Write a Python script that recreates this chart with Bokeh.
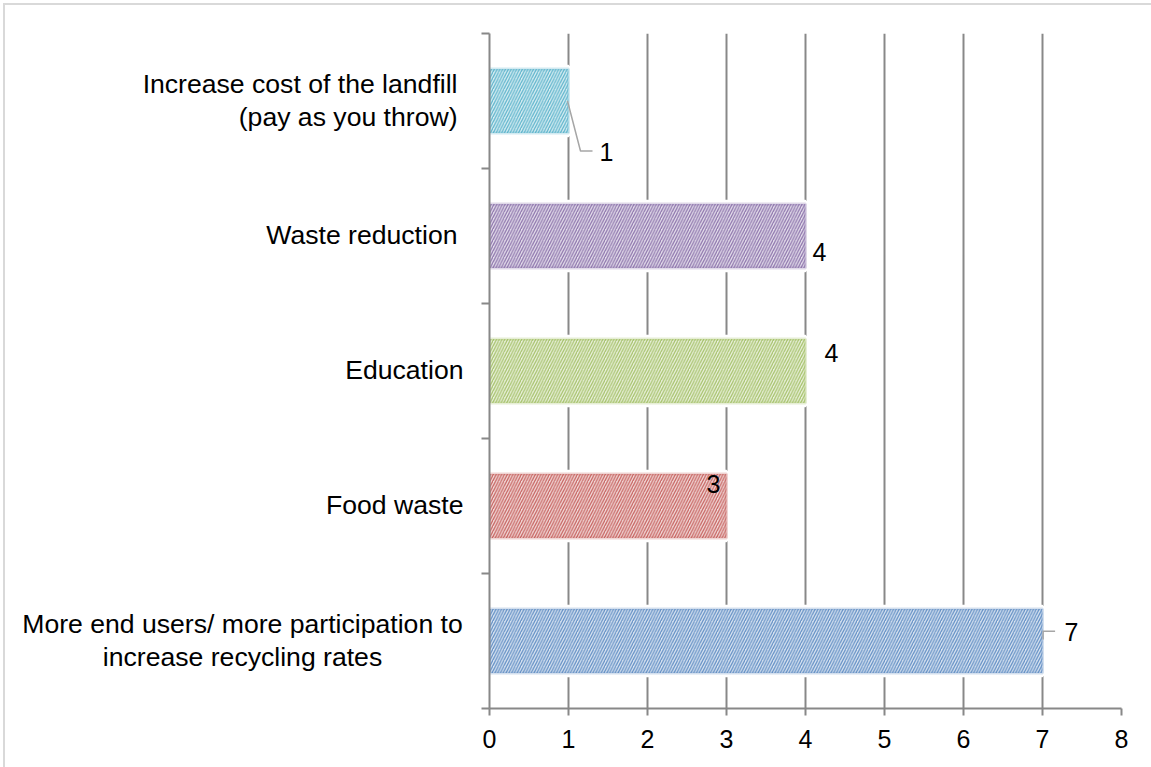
from bokeh.plotting import figure
from bokeh.layouts import row
from bokeh.models import FixedTicker, Label, Range1d, ColumnDataSource
from bokeh.core.properties import value
from bokeh.embed import file_html
from bokeh.resources import INLINE

# Measures proposed to raise recycling, listed from the bottom bar to the top bar
measures = [
    "More end users/ more participation to\nincrease recycling rates",
    "Food waste",
    "Education",
    "Waste reduction",
    "Increase cost of the landfill\n(pay as you throw)",
]
responses = [7, 3, 4, 4, 1]
x_ticks = [0, 1, 2, 3, 4, 5, 6, 7, 8]

stripe_colors = ["#4F81BD", "#C0504D", "#9BBB59", "#8064A2", "#4BACC6"]
tint_colors = ["#DCE6F2", "#F2DCDB", "#EBF1DE", "#E5E0EC", "#DAEEF3"]

FONT = "Liberation Sans"
GRID = "#888888"
LEADER = "#A6A6A6"

X_MAX = 8
N = len(measures)
FRAME_W, FRAME_H = 632, 675
PX_X = FRAME_W / X_MAX          # pixels per response
PX_Y = FRAME_H / N              # pixels per category band
TOP, BOTTOM = 28, 59
LABEL_W = 460                   # width of the category-label panel
HEIGHT = 762

y_range = Range1d(0, N)
centers = [i + 0.5 for i in range(N)]

# ---- left panel: category names -------------------------------------------
lab = figure(
    width=LABEL_W, height=HEIGHT,
    x_range=Range1d(0, LABEL_W), y_range=y_range,
    x_axis_location=None, y_axis_location=None,
    output_backend="svg", toolbar_location=None,
    min_border_left=0, min_border_right=0,
    min_border_top=TOP, min_border_bottom=BOTTOM,
)
lab.outline_line_color = None
lab.grid.visible = False

# (alignment, anchor x in px of the panel) per category
label_style = [("center", 237), ("right", 458), ("right", 458),
               ("right", 452), ("right", 452)]
LINE_GAP = 33
tx, ty, toff, talign, ttext = [], [], [], [], []
for name, yc, (align, xa) in zip(measures, centers, label_style):
    lines = name.split("\n")
    n = len(lines)
    for k, line in enumerate(lines):
        tx.append(xa)
        ty.append(yc)
        toff.append((k - (n - 1) / 2) * LINE_GAP - 1)
        talign.append(align)
        ttext.append(line)
lab.text(x=tx, y=ty, text=ttext, y_offset=toff, text_align=talign,
         text_baseline="middle", text_font=value(FONT),
         text_font_size="26.6px", text_color="black")

# ---- right panel: the bar chart --------------------------------------------
p = figure(
    width=1146 - LABEL_W, height=HEIGHT,
    x_range=Range1d(0, X_MAX), y_range=y_range,
    output_backend="svg", toolbar_location=None,
    min_border_left=24, min_border_right=30,
    min_border_top=TOP, min_border_bottom=BOTTOM,
)
p.outline_line_color = None
p.background_fill_color = "white"
p.border_fill_color = "white"

# x axis: 0..8 with ticks pointing down
p.xaxis.ticker = FixedTicker(ticks=x_ticks)
p.xaxis.axis_line_color = GRID
p.xaxis.axis_line_width = 2
p.xaxis.major_tick_line_color = GRID
p.xaxis.major_tick_line_width = 2
p.xaxis.major_tick_out = 7
p.xaxis.major_tick_in = 0
p.xaxis.minor_tick_line_color = None
p.xaxis.major_label_text_font = FONT
p.xaxis.major_label_text_font_size = "25px"
p.xaxis.major_label_text_color = "black"
p.xaxis.major_label_standoff = 14

# y axis: tick marks only on the band boundaries, no labels
p.yaxis.ticker = FixedTicker(ticks=[], minor_ticks=list(range(N + 1)))
p.yaxis.axis_line_color = GRID
p.yaxis.axis_line_width = 2
p.yaxis.major_tick_line_color = None
p.yaxis.minor_tick_line_color = GRID
p.yaxis.minor_tick_line_width = 2
p.yaxis.minor_tick_out = 8
p.yaxis.minor_tick_in = 0

p.ygrid.visible = False
p.xgrid.grid_line_color = GRID
p.xgrid.grid_line_width = 2

src = ColumnDataSource(dict(
    y=centers, right=responses, stripe=stripe_colors, tint=tint_colors,
))

# white halo that breaks the grid lines around each bar
p.hbar(y="y", left=0, right="right", height=0.5, source=src,
       fill_color="white", line_color="white", line_width=5)
# hatched bars with a soft tinted rim
p.hbar(y="y", left=0, right="right", height=0.474, source=src,
       fill_color="tint", line_color="stripe", line_alpha=0.25, line_width=3,
       hatch_pattern="/", hatch_color="stripe", hatch_scale=5.6,
       hatch_weight=1.3, hatch_alpha=0.85)

# value labels: offset (px right, px down) from the end of each bar
value_offsets = [(29, -9.5), (-13, -22.5), (26, -18.5), (14, 15.5), (38, 51)]
for v, yc, (dx, dy) in zip(responses, centers, value_offsets):
    p.add_layout(Label(
        x=v, y=yc, x_offset=dx, y_offset=-dy, text=str(v),
        text_align="center", text_baseline="middle",
        text_font=FONT, text_font_size="25px", text_color="black",
    ))

# leader lines (px right, px down) from the bar end to two of the value labels
leaders = {
    0: [(0.6, -1.5), (0.6, -9.8), (12.6, -9.8)],
    4: [(-1, 0), (12, 50), (24, 50)],
}
for idx, pts in leaders.items():
    xs = [responses[idx] + dx / PX_X for dx, _ in pts]
    ys = [centers[idx] - dy / PX_Y for _, dy in pts]
    p.line(xs, ys, line_color=LEADER, line_width=1.5)

layout = row(lab, p)
layout.styles = {
    "margin-left": "3px", "margin-top": "3px",
    "border-left": "2px solid #D9D9D9", "border-top": "2px solid #D9D9D9",
}

open("out.html", "w").write(file_html(layout, INLINE))
